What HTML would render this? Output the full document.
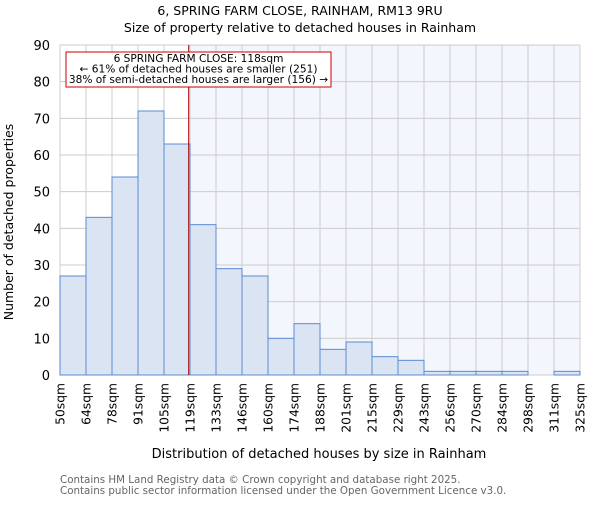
<!DOCTYPE html>
<html><head><meta charset="utf-8"><style>
body{margin:0;background:#fff;}
svg{font-family:"DejaVu Sans","Liberation Sans",sans-serif;}
</style></head><body>
<svg id="chart" width="600" height="500" xmlns="http://www.w3.org/2000/svg">
<text x="300" y="15" text-anchor="middle" font-size="12.5" fill="#000">6, SPRING FARM CLOSE, RAINHAM, RM13 9RU</text>
<text x="300" y="32" text-anchor="middle" font-size="12.5" fill="#000">Size of property relative to detached houses in Rainham</text>
<g id="plot"></g>
<text x="319" y="458" text-anchor="middle" font-size="13" fill="#000">Distribution of detached houses by size in Rainham</text>
<text transform="translate(13,222) rotate(-90)" text-anchor="middle" font-size="12.5" fill="#000">Number of detached properties</text>
<text x="60" y="483" font-size="10.3" fill="#666">Contains HM Land Registry data © Crown copyright and database right 2025.</text>
<text x="60" y="494" font-size="10.3" fill="#666">Contains public sector information licensed under the Open Government Licence v3.0.</text>
</svg>
<script>
const binLabels=["50sqm","64sqm","78sqm","91sqm","105sqm","119sqm","133sqm","146sqm","160sqm","174sqm","188sqm","201sqm","215sqm","229sqm","243sqm","256sqm","270sqm","284sqm","298sqm","311sqm","325sqm"];
const counts=[27,43,54,72,63,41,29,27,10,14,7,9,5,4,1,1,1,1,0,1];
const yTicks=[0,10,20,30,40,50,60,70,80,90];
const propertyBinPos=4.95;
const NS="http://www.w3.org/2000/svg";
const L=60,R=580,T=45,B=375,yMax=90;
const bw=(R-L)/counts.length;
const x=i=>L+i*bw;
const y=v=>B-(v/yMax)*(B-T);
const g=document.getElementById('plot');
function mk(t,a){const e=document.createElementNS(NS,t);for(const k in a)e.setAttribute(k,a[k]);g.appendChild(e);return e;}
const px=x(propertyBinPos);
let e=mk('rect',{x:L,y:T,width:R-L,height:B-T,fill:'#fff'});


e=mk('rect',{x:px,y:T,width:R-px,height:B-T,fill:'#f3f6fd'});


yTicks.forEach(v=>{
 const l=mk('line',{x1:L,x2:R,y1:y(v),y2:y(v),stroke:'#ccc','stroke-width':1});
 
 
 const t=mk('text',{x:L-10,y:y(v)+5,'text-anchor':'end','font-size':13,fill:'#000'});
 t.textContent=v;
 
 
});
binLabels.forEach((s,i)=>{
 const l=mk('line',{x1:x(i),x2:x(i),y1:T,y2:B,stroke:'#ccc','stroke-width':1});
 
 
 const t=mk('text',{transform:`translate(${x(i)+4.5},${B+8}) rotate(-90)`,'text-anchor':'end','font-size':12.3,fill:'#000'});
 t.textContent=s;
 
 
});
counts.forEach((c,i)=>{
 if(c<=0)return;
 const r=mk('rect',{x:x(i),y:y(c),width:bw,height:B-y(c),fill:'#dae4f3',stroke:'#5b8bd0','stroke-width':1});
 
 
});
e=mk('line',{x1:px,x2:px,y1:T,y2:B,stroke:'#a00','stroke-width':1});


e=mk('rect',{x:66,y:52,width:265,height:35,fill:'#fff',stroke:'#c00','stroke-width':1});


["6 SPRING FARM CLOSE: 118sqm","← 61% of detached houses are smaller (251)","38% of semi-detached houses are larger (156) →"].forEach((s,i)=>{
 const t=mk('text',{x:198.5,y:62+i*10.5,'text-anchor':'middle','font-size':10.6,fill:'#000'});
 t.textContent=s;
 
 
});
</script>
</body></html>
